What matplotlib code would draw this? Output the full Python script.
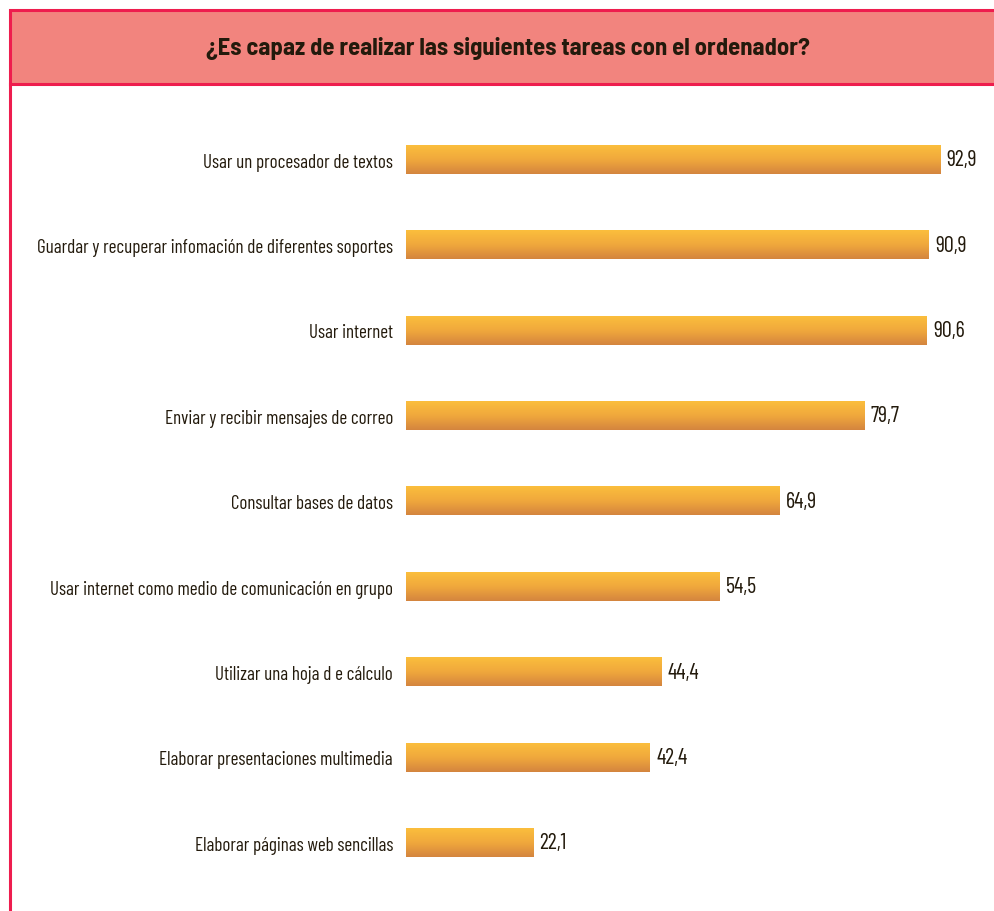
import matplotlib.pyplot as plt
import matplotlib.colors as mcolors
import numpy as np
from matplotlib.patches import Rectangle
from matplotlib.lines import Line2D

plt.rcParams['font.family'] = ['Barlow Condensed', 'Roboto Condensed', 'DejaVu Sans']
fuente_titulo = ['Barlow Semi Condensed', 'Roboto Condensed', 'DejaVu Sans']

# datos
tareas = [
    "Usar un procesador de textos",
    "Guardar y recuperar infomación de diferentes soportes",
    "Usar internet",
    "Enviar y recibir mensajes de correo",
    "Consultar bases de datos",
    "Usar internet como medio de comunicación en grupo",
    "Utilizar una hoja d e cálculo",
    "Elaborar presentaciones multimedia",
    "Elaborar páginas web sencillas",
]
valores = [92.9, 90.9, 90.6, 79.7, 64.9, 54.5, 44.4, 42.4, 22.1]
etiquetas = ["92,9", "90,9", "90,6", "79,7", "64,9", "54,5", "44,4", "42,4", "22,1"]
titulo = "¿Es capaz de realizar las siguientes tareas con el ordenador?"

W, H = 995, 912
fig = plt.figure(figsize=(W / 100, H / 100), dpi=100)

# marco rojo del título y línea izquierda
borde = '#EE1D4E'
fig.patches.append(Rectangle((10 / W, 1 - 85 / H), 1.0, 74 / H, transform=fig.transFigure,
                             facecolor='#F2847E', edgecolor=borde, linewidth=2.2, zorder=0))
fig.lines.append(Line2D([10 / W, 10 / W], [0, 1 - 85 / H], transform=fig.transFigure,
                        color=borde, linewidth=2.2))
fig.text(508 / W, 1 - 49 / H, titulo, ha='center', va='center', fontsize=17.7,
         fontweight='bold', color='#231a0c', family=fuente_titulo)

# ejes de las barras
top_px, bot_px = 118, 886.5
ax = fig.add_axes([406 / W, 1 - bot_px / H, 575 / W, (bot_px - top_px) / H])
y = np.arange(len(tareas))
bars = ax.barh(y, valores, height=0.33, color='none')

cmap = mcolors.LinearSegmentedColormap.from_list('naranja', ['#FBBE3D', '#F0A83C', '#D4853F'])
grad = np.linspace(0, 1, 64).reshape(-1, 1)
for b in bars:
    x0, y0, w, h = b.get_x(), b.get_y(), b.get_width(), b.get_height()
    ax.imshow(grad, cmap=cmap, aspect='auto', extent=(x0, x0 + w, y0 + h, y0),
              interpolation='bicubic', zorder=2)
ax.set_xlim(0, 100)
ax.set_ylim(len(tareas) - 0.5, -0.5)

for b, t in zip(bars, etiquetas):
    ax.text(b.get_width() + 1.1, b.get_y() + b.get_height() / 2, t, va='center', ha='left',
            fontsize=16, color='#231a0c')

ax.set_yticks(y)
ax.set_yticklabels(tareas, fontsize=13.7, color='#231a0c')
ax.tick_params(axis='y', length=0, pad=9.4)
ax.set_xticks([])
for s in ax.spines.values():
    s.set_visible(False)

fig.savefig('out.png', dpi=100)
